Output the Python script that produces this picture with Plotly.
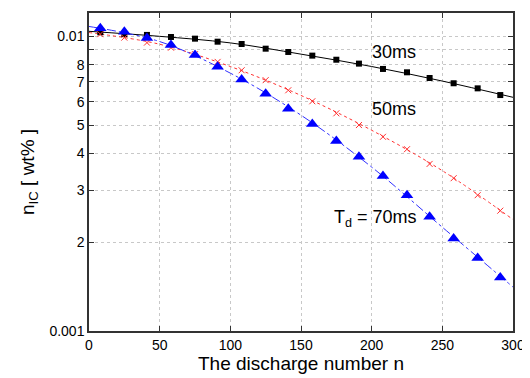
import plotly.graph_objects as go
import math

# discharge numbers of the measured points
n_pts = [8, 25, 41, 58, 75, 91, 108, 125, 141, 158, 175, 191, 208, 225, 241, 258, 275, 291]

# measured values [wt%]
v30 = [0.01032, 0.01017, 0.01011, 0.00995, 0.00982, 0.00959, 0.00942, 0.00908, 0.00885,
       0.00860, 0.00833, 0.00808, 0.00775, 0.00755, 0.00722, 0.00693, 0.00666, 0.00632]
v50 = [0.01017, 0.00990, 0.00952, 0.00915, 0.00870, 0.00819, 0.00767, 0.00710, 0.00656,
       0.00602, 0.00548, 0.00500, 0.00456, 0.00414, 0.00369, 0.00330, 0.00289, 0.00256]
v70 = [0.01065, 0.01037, 0.00988, 0.00935, 0.00865, 0.00789, 0.00713, 0.00638, 0.00568,
       0.00504, 0.00441, 0.00390, 0.00336, 0.00289, 0.00244, 0.00206, 0.00177, 0.00152]

n_fit = [0, 50, 100, 150, 200, 250, 300]
f30 = [0.01040, 0.01000, 0.00950, 0.00870, 0.00790, 0.00705, 0.00621]
f50 = [0.01030, 0.00940, 0.00790, 0.00630, 0.00480, 0.00350, 0.00239]
f70 = [0.01080, 0.00960, 0.00750, 0.00540, 0.00360, 0.00225, 0.00141]

y_tickvals = [0.001, 0.002, 0.003, 0.004, 0.005, 0.006, 0.007, 0.008, 0.01]
y_ticktext = ["0.001", "2", "3", "4", "5", "6", "7", "8", "0.01"]
y_minorvals = [0.009]
x_tickvals = [0, 50, 100, 150, 200, 250, 300]

FONT = "Liberation Sans, Arial, sans-serif"

fig = go.Figure()
fig.add_trace(go.Scatter(x=n_fit, y=f30, mode="lines", line=dict(color="black", width=1, shape="spline"),
                         hoverinfo="skip"))
fig.add_trace(go.Scatter(x=n_fit, y=f50, mode="lines", line=dict(color="#ff3030", width=1, dash="dot", shape="spline"),
                         hoverinfo="skip"))
fig.add_trace(go.Scatter(x=n_fit, y=f70, mode="lines", line=dict(color="#3030ff", width=1, dash="dashdot", shape="spline"),
                         hoverinfo="skip"))
fig.add_trace(go.Scatter(x=n_pts, y=v30, mode="markers",
                         marker=dict(symbol="square", size=6, color="black")))
fig.add_trace(go.Scatter(x=n_pts, y=v50, mode="markers",
                         marker=dict(symbol="x-thin", size=6, line=dict(color="#ff3030", width=1))))
fig.add_trace(go.Scatter(x=n_pts, y=v70, mode="markers",
                         marker=dict(symbol="triangle-up", size=11, color="#0000ff")))

ann_font = dict(family=FONT, size=18, color="black")
fig.add_annotation(x=216, y=math.log10(0.00885), text="30ms", showarrow=False, font=ann_font)
fig.add_annotation(x=216, y=math.log10(0.00567), text="50ms", showarrow=False, font=ann_font)
fig.add_annotation(x=203, y=math.log10(0.00240), text="T<sub>d</sub> = 70ms", showarrow=False, font=ann_font)

# page body adds an 8px offset, so the figure is drawn 8px smaller with margins shifted
fig.update_layout(
    width=522, height=370,
    margin=dict(l=81, r=17, t=5, b=47, autoexpand=False),
    paper_bgcolor="white", plot_bgcolor="white",
    showlegend=False,
    font=dict(family=FONT, size=14, color="black"),
)
fig.update_xaxes(
    range=[0, 300], tickvals=x_tickvals, ticks="inside", ticklen=5, tickcolor="#333",
    showline=True, linecolor="#333", linewidth=1.5, mirror="ticks", automargin=False,
    showgrid=True, gridcolor="#c8c8c8", griddash="dot", gridwidth=1, zeroline=False,
    tickfont=dict(size=14),
    title=dict(text="The discharge number n", font=dict(size=19), standoff=4),
)
fig.update_yaxes(
    type="log", range=[-3, math.log10(0.0120)], tickvals=y_tickvals, ticktext=y_ticktext,
    ticks="inside", ticklen=5, tickcolor="#333", automargin=False,
    showline=True, linecolor="#333", linewidth=1.5, mirror="ticks",
    showgrid=True, gridcolor="#c8c8c8", griddash="dot", gridwidth=1, zeroline=False,
    minor=dict(tickmode="array", tickvals=y_minorvals, ticks="inside", ticklen=5, tickcolor="#333",
               showgrid=True, gridcolor="#c8c8c8", griddash="dot", gridwidth=1),
    tickfont=dict(size=14),
    title=dict(text="n<sub>IC</sub> [ wt% ]", font=dict(size=19), standoff=10),
)

fig.write_html("out.html")
